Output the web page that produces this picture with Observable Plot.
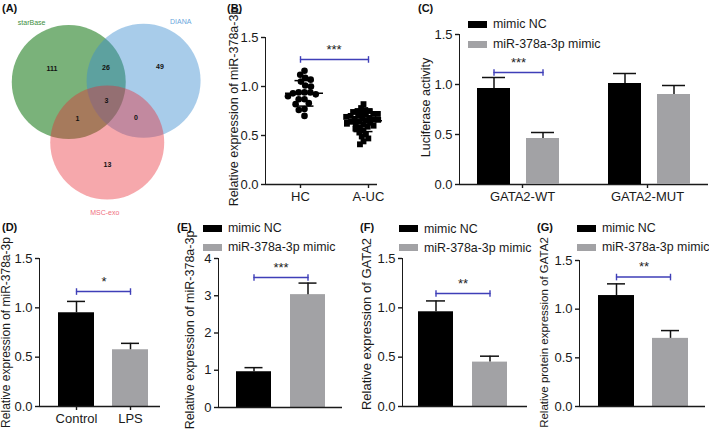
<!DOCTYPE html>
<html><head><meta charset="utf-8">
<script src="https://cdn.jsdelivr.net/npm/d3@7"></script>
<script src="https://cdn.jsdelivr.net/npm/@observablehq/plot@0.6"></script>
<style>
html,body{margin:0;padding:0;background:#fff;}
#fig{position:relative;width:709px;height:431px;overflow:hidden;background:#fff;font-family:'Liberation Sans',Arial,Helvetica,sans-serif;}
#fig svg{position:absolute;}
#fig svg [aria-label^="y-axis"], #fig svg [aria-label^="x-axis"]{stroke-width:1.4px;}
.pl{position:absolute;font-weight:bold;font-size:11px;line-height:11px;color:#111;}
.lg{position:absolute;font-size:12.4px;color:#1a1a1a;white-space:nowrap;}
</style></head><body><div id="fig"></div><script>
// ---------- DATA ----------
// (A) Venn
const vennSets = ["starBase", "DIANA", "MSC-exo"];
const vennRegions = ["100", "010", "001", "110", "101", "011", "111"];
const vennCounts = [111, 49, 13, 26, 1, 0, 3];
// (B)
const bGroups = ["HC", "A-UC"];
const bHC = [1.16, 1.12, 1.09, 1.07, 1.05, 1.01, 1.00, 0.94, 0.94, 0.94, 0.93, 0.92, 0.90, 0.87, 0.87, 0.83, 0.82, 0.77, 0.76, 0.70];
const bAUC = [0.82, 0.78, 0.76, 0.75, 0.75, 0.74, 0.73, 0.72, 0.72, 0.71, 0.70, 0.70, 0.69, 0.68, 0.68, 0.67, 0.66, 0.66, 0.65, 0.64, 0.64, 0.63, 0.62, 0.62, 0.61, 0.60, 0.59, 0.58, 0.57, 0.55, 0.53, 0.51, 0.49, 0.47, 0.44, 0.41];
const bMeans = [0.93, 0.65];
const bSDs = [0.13, 0.11];
// legend series
const series = ["mimic NC", "miR-378a-3p mimic"];
const seriesColors = ["#000000", "#a2a2a5"];
// (C)
const cGroups = ["GATA2-WT", "GATA2-MUT"];
const cNC = [0.96, 1.01], cNCTop = [1.07, 1.11];
const cMimic = [0.46, 0.90], cMimicTop = [0.52, 0.99];
// (D)
const dCats = ["Control", "LPS"];
const dValues = [0.95, 0.575], dTops = [1.065, 0.64];
// (E)
const eValues = [0.96, 3.03], eTops = [1.07, 3.34];
// (F)
const fValues = [0.96, 0.45], fTops = [1.07, 0.51];
// (G)
const gValues = [1.14, 0.70], gTops = [1.26, 0.78];
const stars = {B: "***", C: "***", D: "*", E: "***", F: "**", G: "**"};
const brackets = {B: 1.276, C: 1.12, D: 1.165, E: 3.49, F: 1.145, G: 1.33};

// ---------- HELPERS ----------
const fig = document.getElementById("fig");
const FONT = "'Liberation Sans', Arial, Helvetica, sans-serif";
const INK = "#1a1a1a";
const BLUE = "#3f3fb8";
const baseStyle = {fontSize: "13px", fontFamily: FONT, color: INK, background: "transparent", overflow: "visible"};
function put(svg, left, top) {
  svg.style.position = "absolute"; svg.style.left = left + "px"; svg.style.top = top + "px";
  fig.appendChild(svg);
}
const vbar = {draw(ctx, size) { const h = Math.sqrt(size / Math.PI); ctx.moveTo(0, -h); ctx.lineTo(0, h); }};
function yLabel(text, dx, dy, fs) {
  return Plot.text([text], {text: d => d, frameAnchor: "left", textAnchor: "middle", rotate: -90, dx, dy, fontSize: fs, fill: INK});
}
function bracketMarks(cats, yv, st, extra = {}) {
  return [
    Plot.line(cats, {x: d => d, y: () => yv, stroke: BLUE, strokeWidth: 1.4, ...extra}),
    Plot.dot(cats, {x: d => d, y: () => yv, symbol: vbar, r: 3.3, stroke: BLUE, strokeWidth: 1.4, fill: "none", ...extra}),
    Plot.text([st], {text: d => d, y: () => yv, dy: -10, fontSize: 13, fill: "#222", ...extra})
  ];
}
function legend(left, top, rowH) {
  const div = document.createElement("div");
  div.className = "lg"; div.style.left = left + "px"; div.style.top = (top - rowH / 2) + "px";
  series.forEach((s, i) => {
    const row = document.createElement("div");
    row.style.cssText = `display:flex;align-items:center;height:${rowH}px`;
    row.innerHTML = `<span style="display:inline-block;width:19px;height:7px;background:${seriesColors[i]};margin-right:6px"></span><span>${s}</span>`;
    div.appendChild(row);
  });
  fig.appendChild(div);
}
function panelLetter(t, left, top) {
  const d = document.createElement("div"); d.className = "pl"; d.textContent = t;
  d.style.left = left + "px"; d.style.top = top + "px"; fig.appendChild(d);
}

// ---------- (A) VENN ----------
(function () {
  const W = 225, H = 215, R = 57, cx0 = 106, cy0 = 100, dist = 42;
  const ang = [-154, -28, 89], labAng = [-122, -58, 92], labR = R + 13;
  const fills = ["#0d730d", "#398bcf", "#e8252f"], alphas = [0.55, 0.44, 0.4];
  const labColors = ["#3e8e3e", "#6aa6dc", "#f07080"];
  const circles = vennSets.map((name, i) => {
    const a = ang[i] * Math.PI / 180, la = labAng[i] * Math.PI / 180;
    const x = cx0 + dist * Math.cos(a), y = cy0 + dist * Math.sin(a);
    return {name, x, y, r: R, lx: x + labR * Math.cos(la), ly: y + labR * Math.sin(la), color: labColors[i]};
  });
  // label each region at its point farthest from every circle boundary
  const regions = vennRegions.map((code, k) => {
    let best = -1, bx = 0, by = 0;
    for (let x = 0; x < W; x += 0.5) for (let y = 0; y < H; y += 0.5) {
      let ok = true, md = Infinity;
      circles.forEach((c, i) => {
        const d = Math.hypot(x - c.x, y - c.y);
        if ((d < c.r) !== (code[i] === "1")) ok = false;
        md = Math.min(md, Math.abs(d - c.r));
      });
      if (ok && md > best) { best = md; bx = x; by = y; }
    }
    return {code, count: vennCounts[k], x: bx, y: by};
  });
  const svg = Plot.plot({
    width: W, height: H, margin: 0, style: baseStyle,
    x: {domain: [0, W], range: [0, W], axis: null},
    y: {domain: [0, H], range: [0, H], axis: null},
    r: {type: "identity"}, color: {type: "identity"},
    marks: [
      ...circles.map((c, i) => Plot.dot([c], {x: "x", y: "y", r: "r", fill: fills[i], fillOpacity: alphas[i]})),
      Plot.text(regions, {x: "x", y: "y", text: d => String(d.count), fontSize: 7, fontWeight: "bold", fill: "#111"}),
      Plot.text(circles, {x: "lx", y: "ly", text: "name", fontSize: 7, fill: "color"})
    ]
  });
  put(svg, 0, 0);
})();

// ---------- (B) DOT PLOT ----------
(function () {
  const geo = {width: 205, height: 215, marginLeft: 65, marginRight: 3, marginTop: 37, marginBottom: 31};
  const band = {domain: bGroups, paddingInner: 0.49, paddingOuter: 0.406};
  const yOpt = {domain: [0, 1.5], ticks: [0, 0.5, 1, 1.5], tickFormat: d3.format(".1f"), tickSize: 4, tickPadding: 3, line: true, label: null};
  const back = Plot.plot({
    ...geo, style: baseStyle,
    x: {...band, tickSize: 4, tickPadding: 3, label: null},
    y: yOpt,
    marks: [
      Plot.ruleY([0], {stroke: INK, strokeWidth: 1.5, insetRight: 25}),
      ...bracketMarks(bGroups, brackets.B, stars.B),
      yLabel("Relative expression of miR-378a-3p", -32, -4, 12.5)
    ]
  });
  put(back, 200, 0);
  const data = [...bHC.map(v => ({g: "HC", v})), ...bAUC.map(v => ({g: "A-UC", v}))];
  const st = bGroups.map((g, i) => ({g, m: bMeans[i], lo: bMeans[i] - bSDs[i], hi: bMeans[i] + bSDs[i]}));
  const front = Plot.plot({
    ...geo, style: baseStyle,
    fx: {...band, axis: null, label: null},
    y: {domain: [0, 1.5], axis: null},
    marks: [
      Plot.dot(data.filter(d => d.g === "HC"), Plot.dodgeX({anchor: "middle", r: 2.9, padding: 0}, {fx: "g", y: "v", r: 3.3, fill: "#000", symbol: "circle"})),
      Plot.dot(data.filter(d => d.g === "A-UC"), Plot.dodgeX({anchor: "middle", r: 2.3, padding: 0}, {fx: "g", y: "v", r: 3.3, fill: "#000", symbol: "square"})),
      Plot.ruleX(st, {fx: "g", y1: "lo", y2: "hi", stroke: "#000", strokeWidth: 1.5}),
      Plot.ruleY(st, {fx: "g", y: "m", stroke: "#000", strokeWidth: 1.5, insetLeft: -4, insetRight: -4}),
      Plot.ruleY(st, {fx: "g", y: "lo", stroke: "#000", strokeWidth: 1.5, insetLeft: 5.5, insetRight: 5.5}),
      Plot.ruleY(st, {fx: "g", y: "hi", stroke: "#000", strokeWidth: 1.5, insetLeft: 5.5, insetRight: 5.5})
    ]
  });
  put(front, 200, 0);
})();

// ---------- (C) GROUPED BARS ----------
(function () {
  const geo = {width: 294, height: 215, marginLeft: 44, marginRight: 0, marginTop: 34, marginBottom: 31};
  const band = {domain: cGroups, paddingInner: 0.3726, paddingOuter: 0.137};
  const back = Plot.plot({
    ...geo, style: baseStyle,
    x: {...band, tickSize: 4, tickPadding: 3, label: null},
    y: {domain: [0, 1.5], ticks: [0, 0.5, 1, 1.5], tickFormat: d3.format(".1f"), tickSize: 4, tickPadding: 3, line: true, label: null},
    marks: [
      Plot.ruleY([0], {stroke: INK, strokeWidth: 1.5, insetRight: 1}),
      yLabel("Luciferase activity", -34, -2, 12.5)
    ]
  });
  put(back, 415, 0);
  const data = cGroups.flatMap((g, i) => [
    {g, s: series[0], v: cNC[i], e: cNCTop[i]},
    {g, s: series[1], v: cMimic[i], e: cMimicTop[i]}
  ]);
  const front = Plot.plot({
    ...geo, style: baseStyle,
    fx: {...band, axis: null, label: null},
    x: {domain: series, paddingInner: 0.333, paddingOuter: 0, axis: null},
    y: {domain: [0, 1.5], axis: null},
    color: {domain: series, range: seriesColors},
    marks: [
      Plot.barY(data, {fx: "g", x: "s", y: "v", fill: "s"}),
      Plot.ruleX(data, {fx: "g", x: "s", y1: "v", y2: "e", stroke: "#111", strokeWidth: 1.5}),
      Plot.tickY(data, {fx: "g", x: "s", y: "e", stroke: "#111", strokeWidth: 1.5, insetLeft: 5, insetRight: 5}),
      ...bracketMarks(series, brackets.C, stars.C, {fx: () => cGroups[0]})
    ]
  });
  put(front, 415, 0);
  legend(468, 24, 20);
})();

// ---------- (D)-(G) TWO-BAR PANELS ----------
function barPanel(p) {
  const data = p.cats.map((c, i) => ({cat: c, v: p.values[i], e: p.tops[i]}));
  const svg = Plot.plot({
    width: p.w, height: p.h, marginLeft: p.ml, marginRight: p.mr, marginTop: p.mt, marginBottom: p.mb,
    style: baseStyle,
    x: {domain: p.cats, paddingInner: p.pi, paddingOuter: p.po, label: null, axis: p.xAxis ? "bottom" : null, tickSize: 4, tickPadding: 3},
    y: {domain: p.yDomain, ticks: p.yTicks, tickFormat: p.fmt, tickSize: 4, tickPadding: 3, line: true, label: null},
    color: {domain: p.cats, range: seriesColors},
    marks: [
      Plot.barY(data, {x: "cat", y: "v", fill: "cat"}),
      Plot.ruleX(data, {x: "cat", y1: "v", y2: "e", stroke: "#111", strokeWidth: 1.5}),
      Plot.tickY(data, {x: "cat", y: "e", stroke: "#111", strokeWidth: 1.5, insetLeft: p.cap, insetRight: p.cap}),
      Plot.ruleY([p.yDomain[0]], {stroke: INK, strokeWidth: 1.5, insetRight: p.axisInset}),
      ...bracketMarks(p.cats, p.bracket, p.stars),
      yLabel(p.ylabel, p.ldx, p.ldy, p.lfs)
    ]
  });
  put(svg, p.left, p.top);
}
const f1 = d3.format(".1f");
const eCats = series;
barPanel({left: 0, top: 215, w: 175, h: 215, ml: 39, mr: 7, mt: 43, mb: 24, pi: 0.33, po: 0.35, axisInset: 8, cap: 9,
  cats: dCats, values: dValues, tops: dTops, yDomain: [0, 1.5], yTicks: [0, 0.5, 1, 1.5], fmt: f1, xAxis: true,
  bracket: brackets.D, stars: stars.D, ylabel: "Relative expression of miR-378a-3p", ldx: -33, ldy: 0, lfs: 12});
barPanel({left: 180, top: 215, w: 175, h: 215, ml: 38, mr: 12, mt: 43, mb: 23, pi: 0.345, po: 0.31, axisInset: 1, cap: 8.5,
  cats: eCats, values: eValues, tops: eTops, yDomain: [0, 4], yTicks: [0, 1, 2, 3, 4], fmt: d3.format("d"), xAxis: false,
  bracket: brackets.E, stars: stars.E, ylabel: "Relative expression of miR-378a-3p", ldx: -29, ldy: -3, lfs: 12.5});
barPanel({left: 358, top: 215, w: 180, h: 215, ml: 44, mr: 15, mt: 43, mb: 24, pi: 0.352, po: 0.296, axisInset: -4, cap: 8,
  cats: eCats, values: fValues, tops: fTops, yDomain: [0, 1.5], yTicks: [0, 0.5, 1, 1.5], fmt: f1, xAxis: false,
  bracket: brackets.F, stars: stars.F, ylabel: "Relative expression of GATA2", ldx: -36, ldy: -8.5, lfs: 13});
barPanel({left: 535, top: 215, w: 174, h: 215, ml: 44, mr: 1, mt: 45, mb: 24, pi: 0.33, po: 0.35, axisInset: 3, cap: 9,
  cats: eCats, values: gValues, tops: gTops, yDomain: [0, 1.5], yTicks: [0, 0.5, 1, 1.5], fmt: f1, xAxis: false,
  bracket: brackets.G, stars: stars.G, ylabel: "Relative protein expression of GATA2", ldx: -35, ldy: -1, lfs: 11.5});
legend(203, 228, 19);
legend(399, 228.5, 19);
legend(577, 228, 19);

// ---------- PANEL LETTERS ----------
[["(A)", 2, 3], ["(B)", 227, 3], ["(C)", 418, 3], ["(D)", 2, 222], ["(E)", 177, 222], ["(F)", 360, 222], ["(G)", 537, 222]]
  .forEach(([t, l, tp]) => panelLetter(t, l, tp));
</script></body></html>
